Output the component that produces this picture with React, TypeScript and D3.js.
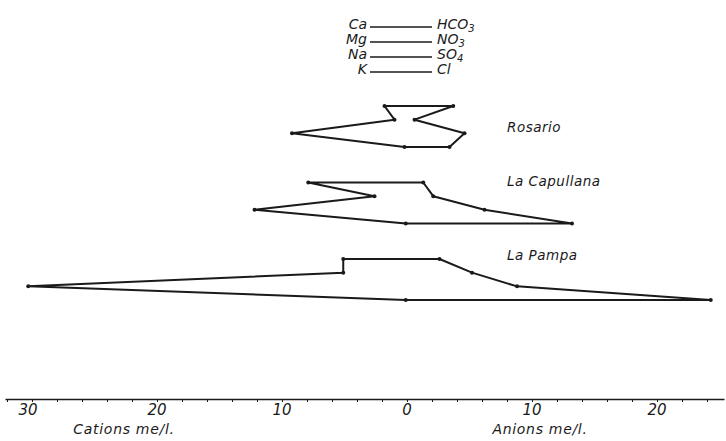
import React, { useRef, useEffect } from 'react';
import * as d3 from 'd3';

// Stiff diagram, cations left / anions right (me/l)
const cations = ['Ca', 'Mg', 'Na', 'K'];
const anions = [
  { base: 'HCO', sub: '3' },
  { base: 'NO', sub: '3' },
  { base: 'SO', sub: '4' },
  { base: 'Cl', sub: '' },
];
const stations = ['Rosario', 'La Capullana', 'La Pampa'];

const rosarioCations = [1.8, 1.0, 9.2, 0.2];
const rosarioAnions = [3.7, 0.6, 4.6, 3.4];
const capullanaCations = [7.9, 2.6, 12.2, 0.1];
const capullanaAnions = [1.3, 2.1, 6.2, 13.2];
const pampaCations = [5.1, 5.1, 30.3, 0.1];
const pampaAnions = [2.6, 5.2, 8.8, 24.3];

const tickValues = d3.range(-32, 26, 2);
const labelTicks = [-30, -20, -10, 0, 10, 20];

const width = 726;
const height = 441;
const font = "'DejaVu Sans', sans-serif";
const ink = '#1a1a1a';

const series = [
  { name: stations[0], cat: rosarioCations, an: rosarioAnions, labelDy: 21 },
  { name: stations[1], cat: capullanaCations, an: capullanaAnions, labelDy: -2 },
  { name: stations[2], cat: pampaCations, an: pampaAnions, labelDy: -4 },
];

const x = d3.scaleLinear().domain([-32.16, 25.36]).range([5, 724]);
const yStation = d3.scalePoint().domain(stations).range([106, 259]);
const yRow = d3.scaleLinear().domain([0, 3]).range([0, 41]);

const App = () => {
  const axisRef = useRef(null);

  useEffect(() => {
    const g = d3.select(axisRef.current);
    g.selectAll('*').remove();
    g.call(
      d3
        .axisBottom(x)
        .tickValues(tickValues)
        .tickSize(3)
        .tickSizeOuter(0)
        .tickFormat(() => ''),
    );
    g.select('.domain').attr('stroke', ink).attr('stroke-width', 1.6);
    g.selectAll('.tick line').attr('stroke', ink).attr('stroke-width', 1);
  }, []);

  return (
    <svg width={width} height={height} style={{ position: 'absolute', left: 0, top: 0, background: '#fff' }}>
      {/* legend */}
      <g fontFamily={font} fontStyle="italic" fontSize={14} fill={ink}>
        {cations.map((c, i) => {
          const yy = 27 + i * 15;
          const a = anions[i];
          return (
            <g key={c}>
              <text x={367} y={yy + 2} textAnchor="end">{c}</text>
              <line x1={370} x2={432} y1={yy} y2={yy} stroke={ink} strokeWidth={1.7} />
              <text x={437} y={yy + 2}>
                {a.base}
                {a.sub && (
                  <tspan fontSize={10} dy={3}>{a.sub}</tspan>
                )}
              </text>
            </g>
          );
        })}
      </g>

      {/* polygons */}
      {series.map((s) => {
        const y0 = yStation(s.name);
        const right = s.an.map((v, i) => [x(v), y0 + yRow(i)]);
        const left = s.cat.map((v, i) => [x(-v), y0 + yRow(i)]).reverse();
        const pts = [...right, ...left];
        return (
          <g key={s.name}>
            <path
              d={d3.line().curve(d3.curveLinearClosed)(pts)}
              fill="none"
              stroke={ink}
              strokeWidth={2}
              strokeLinejoin="round"
            />
            {pts.map((p, i) => (
              <circle key={i} cx={p[0]} cy={p[1]} r={2} fill={ink} />
            ))}
            <text
              x={507}
              y={y0 + s.labelDy + 5}
              fontFamily={font}
              fontStyle="italic"
              fontSize={13.5}
              fill={ink}
              letterSpacing={0.5}
            >
              {s.name}
            </text>
          </g>
        );
      })}

      {/* axis */}
      <g ref={axisRef} transform="translate(0,399)" />
      <g fontFamily={font} fontStyle="italic" fontSize={15} fill={ink} textAnchor="middle">
        {labelTicks.map((t) => (
          <text key={t} x={x(t) - (t === -30 ? 4 : 0)} y={415}>
            {Math.abs(t)}
          </text>
        ))}
        <text x={124} y={434} fontSize={14} letterSpacing={0.7}>Cations  me/l.</text>
        <text x={540} y={434} fontSize={14} letterSpacing={0.7}>Anions  me/l.</text>
      </g>
    </svg>
  );
};

export default App;
